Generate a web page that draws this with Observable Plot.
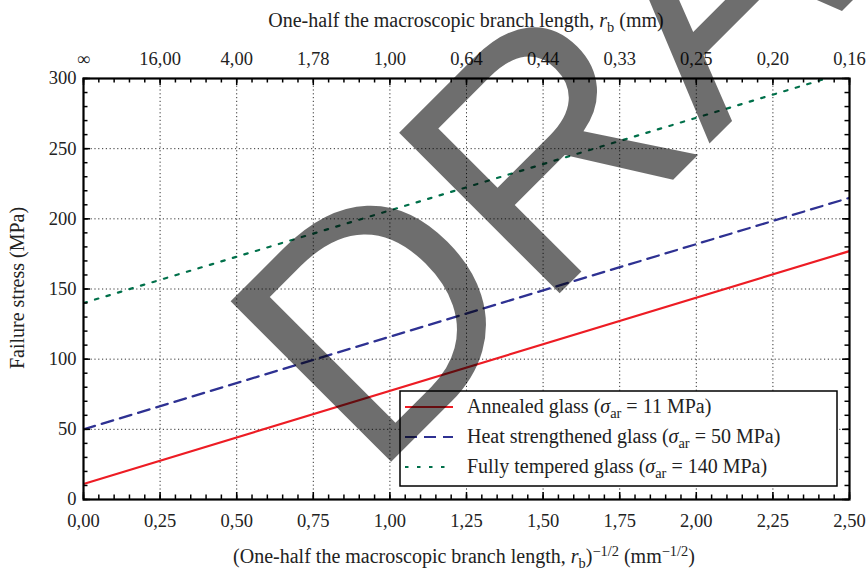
<!DOCTYPE html>
<html><head><meta charset="utf-8">
<script src="https://cdn.jsdelivr.net/npm/d3@7"></script>
<script src="https://cdn.jsdelivr.net/npm/@observablehq/plot@0.6"></script>
<style>
body{margin:0;background:#fff;}
#wrap{position:relative;width:866px;height:573px;overflow:hidden;}
#wm{position:absolute;left:0;top:0;pointer-events:none;}
</style></head><body><div id="wrap"></div>
<script>
// ---- data ----
const xTicks = [0, 0.25, 0.5, 0.75, 1.0, 1.25, 1.5, 1.75, 2.0, 2.25, 2.5];
const xTickLabels = ["0,00","0,25","0,50","0,75","1,00","1,25","1,50","1,75","2,00","2,25","2,50"];
const topTickLabels = ["∞","16,00","4,00","1,78","1,00","0,64","0,44","0,33","0,25","0,20","0,16"];
const yTicks = [0, 50, 100, 150, 200, 250, 300];
const xEnds = [0, 2.5];
const annealed = [11, 177];
const heatStrengthened = [50, 215];
const fullyTempered = [140, 305];
const seriesNames = ["Annealed glass", "Heat strengthened glass", "Fully tempered glass"];
const sigmaAr = [11, 50, 140];
const seriesColors = ["#ed1c24", "#2e3192", "#00704a"];
const seriesDash = [null, "12,7", "3.5,8.5"];

const seriesValues = [annealed, heatStrengthened, fullyTempered];
const rows = seriesValues.map((vals, s) => xEnds.map((x, i) => ({series: seriesNames[s], x, y: vals[i]})));

const W = 866, H = 573, mL = 83, mR = 17, mT = 78, mB = 74;
const plotW = W - mL - mR, plotH = H - mT - mB;
const xMinor = d3.range(0, 2.5001, 0.05).map(v => +v.toFixed(2));
const yMinor = d3.range(0, 300.1, 10);
const minorLen = 4.5, majorLen = 7;

const gridStyle = {stroke: "#333", strokeOpacity: 1, strokeWidth: 1, strokeDasharray: "1.2,2.6"};
const tickStyle = {stroke: "#000", strokeWidth: 1.5};
const serif = "'Liberation Serif', 'Times New Roman', serif";

const plot = Plot.plot({
  width: W, height: H,
  marginLeft: mL, marginRight: mR, marginTop: mT, marginBottom: mB,
  style: {fontFamily: serif, fontSize: "18.5px", color: "#222", background: "transparent", overflow: "visible"},
  x: {domain: [0, 2.5]},
  y: {domain: [0, 300]},
  marks: [
    Plot.gridX(xTicks.slice(1, -1), gridStyle),
    Plot.gridY(yTicks.slice(1, -1), gridStyle),
    ...rows.map((r, s) => Plot.line(r, {x: "x", y: "y", stroke: seriesColors[s], strokeWidth: 2.2, strokeDasharray: seriesDash[s], clip: true})),
    // inward ticks on all four sides
    Plot.tickX(xMinor, {x: d => d, insetTop: plotH - minorLen, ...tickStyle}),
    Plot.tickX(xMinor, {x: d => d, insetBottom: plotH - minorLen, ...tickStyle}),
    Plot.tickX(xTicks, {x: d => d, insetTop: plotH - majorLen, ...tickStyle}),
    Plot.tickX(xTicks, {x: d => d, insetBottom: plotH - majorLen, ...tickStyle}),
    Plot.tickY(yMinor, {y: d => d, insetRight: plotW - minorLen, ...tickStyle}),
    Plot.tickY(yMinor, {y: d => d, insetLeft: plotW - minorLen, ...tickStyle}),
    Plot.tickY(yTicks, {y: d => d, insetRight: plotW - majorLen, ...tickStyle}),
    Plot.tickY(yTicks, {y: d => d, insetLeft: plotW - majorLen, ...tickStyle}),
    Plot.frame({stroke: "#000", strokeWidth: 2.2}),
    Plot.axisX(xTicks, {anchor: "bottom", tickSize: 0, tickPadding: 14, label: null, tickFormat: d => xTickLabels[xTicks.indexOf(d)]}),
    Plot.axisX(xTicks, {anchor: "top", tickSize: 0, tickPadding: 14, label: null, tickFormat: d => topTickLabels[xTicks.indexOf(d)]}),
    Plot.axisY(yTicks, {anchor: "left", tickSize: 0, tickPadding: 7, label: null})
  ]
});

document.getElementById("wrap").appendChild(plot);
const svg = d3.select(plot);

// rich text helper: segments [text, kind] kind: null | "i" | "sub" | "sup"
function richText(g, x, y, segs, opts = {}) {
  const t = g.append("text").attr("x", x).attr("y", y)
    .attr("text-anchor", opts.anchor || "start")
    .attr("font-family", serif)
    .attr("font-size", opts.size || 20).attr("fill", "#222");
  if (opts.transform) t.attr("transform", opts.transform);
  let off = 0;
  for (const [str, kind] of segs) {
    const sp = t.append("tspan").text(str);
    let target = 0;
    if (kind === "sub") { target = 5; sp.attr("font-size", "0.72em"); }
    if (kind === "sup") { target = -7; sp.attr("font-size", "0.72em"); }
    if (kind === "i") sp.attr("font-style", "italic");
    if (target !== off) { sp.attr("dy", target - off); off = target; }
  }
  return t;
}

const titles = svg.append("g");
richText(titles, 466, 27, [["One-half the macroscopic branch length, ", null], ["r", "i"], ["b", "sub"], [" (mm)", null]], {anchor: "middle"});
richText(titles, 464, 563, [["(One-half the macroscopic branch length, ", null], ["r", "i"], ["b", "sub"], [")", null], ["−1/2", "sup"], [" (mm", null], ["−1/2", "sup"], [")", null]], {anchor: "middle"});
richText(titles, 0, 0, [["Failure stress (MPa)", null]], {anchor: "middle", transform: "translate(24,288) rotate(-90)"});

// legend
const lg = svg.append("g");
lg.append("rect").attr("x", 400).attr("y", 391).attr("width", 437).attr("height", 95)
  .attr("fill", "#fff").attr("stroke", "#000").attr("stroke-width", 1.5);
seriesNames.forEach((name, s) => {
  const cy = 407 + s * 30;
  lg.append("line").attr("x1", 405).attr("x2", 453).attr("y1", cy).attr("y2", cy)
    .attr("stroke", seriesColors[s]).attr("stroke-width", 2.2)
    .attr("stroke-dasharray", seriesDash[s]);
  richText(lg, 467, cy + 6, [[name + " (", null], ["σ", "i"], ["ar", "sub"], [" = " + sigmaAr[s] + " MPa)", null]], {size: 20});
});

// DRAFT watermark overlay
const wm = d3.select("#wrap").append("svg").attr("id", "wm").attr("width", W).attr("height", H);
wm.append("text").attr("transform", "translate(372,481) rotate(-45)")
  .attr("font-family", "'Liberation Sans', Arial, sans-serif").attr("font-size", 330)
  .attr("fill", "#000").attr("fill-opacity", 0.57).text("DRAFT");
</script>
</body></html>
